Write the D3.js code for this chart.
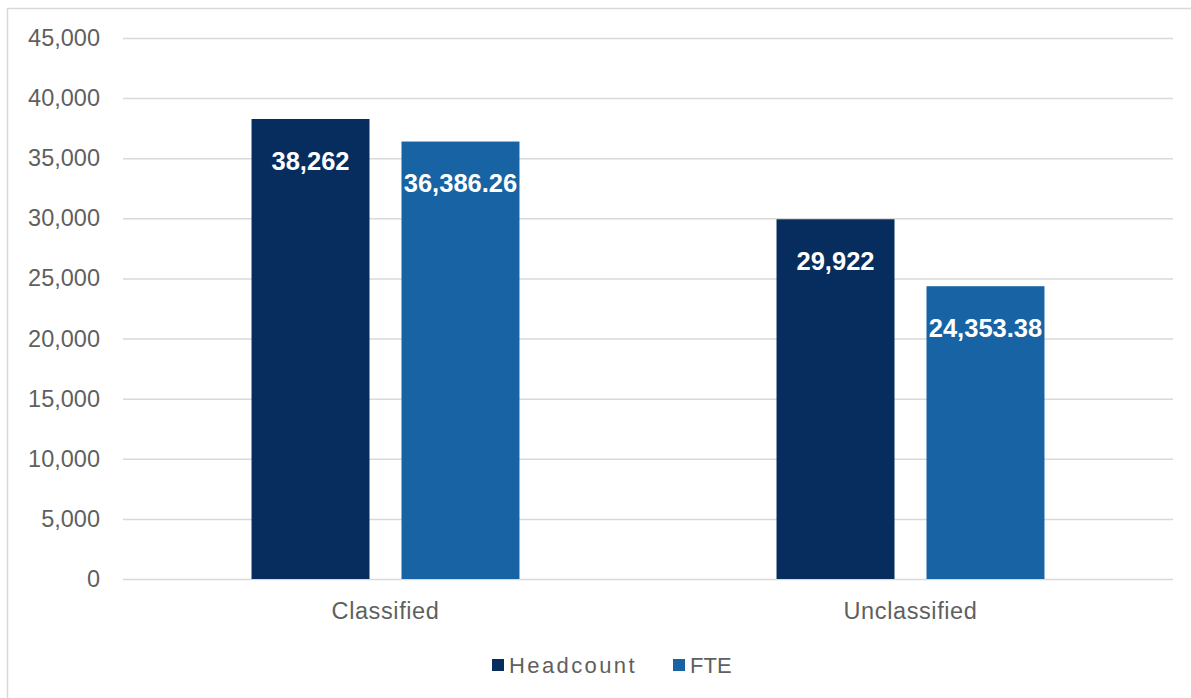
<!DOCTYPE html>
<html>
<head>
<meta charset="utf-8">
<script src="https://cdn.jsdelivr.net/npm/d3@7"></script>
<style>
  html, body { margin: 0; padding: 0; background: #fff; }
  svg { display: block; font-family: "Liberation Sans", Arial, sans-serif; }
</style>
</head>
<body>
<svg id="chart" width="1191" height="698"></svg>
<script>
// Workforce totals by classification
const categories = ["Classified", "Unclassified"];
const seriesNames = ["Headcount", "FTE"];
const headcount = [38262, 29922];
const fte = [36386.26, 24353.38];
const tickValues = [0, 5000, 10000, 15000, 20000, 25000, 30000, 35000, 40000, 45000];
const labelText = [["38,262", "36,386.26"], ["29,922", "24,353.38"]];

const colors = { Headcount: "#072d5e", FTE: "#1763a3" };

const svg = d3.select("#chart");
const W = 1191, H = 698;
const plot = { left: 123, right: 1173, top: 38, bottom: 579 };

// chart frame
svg.append("rect")
  .attr("x", 7.5).attr("y", 8.5)
  .attr("width", W + 20).attr("height", H + 20)
  .attr("fill", "#fff").attr("stroke", "#d9d9d9").attr("stroke-width", 1.5);

const y = d3.scaleLinear().domain([0, 45000]).range([plot.bottom, plot.top]);
const x0 = d3.scaleBand().domain(categories).range([plot.left, plot.right]).padding(0);
const x1 = d3.scaleBand().domain(seriesNames).range([0, x0.bandwidth()])
  .paddingInner(0.2133).paddingOuter(0.857);

// gridlines + tick labels
const yAxis = d3.axisLeft(y).tickValues(tickValues)
  .tickSize(-(plot.right - plot.left)).tickPadding(23)
  .tickFormat(d3.format(","));
const gy = svg.append("g").attr("transform", `translate(${plot.left},0)`).call(yAxis);
gy.select(".domain").remove();
gy.selectAll(".tick line").attr("stroke", "#d9d9d9").attr("stroke-width", 1.5);
gy.selectAll(".tick text")
  .attr("fill", "#5f5f5f").attr("font-size", 23.5)
  .attr("font-family", "'Liberation Sans', Arial, sans-serif");

// category axis labels
const gx = svg.append("g").attr("transform", `translate(0,${plot.bottom})`)
  .call(d3.axisBottom(x0).tickSize(0).tickPadding(23));
gx.select(".domain").remove();
gx.selectAll(".tick text")
  .attr("fill", "#5f5f5f").attr("font-size", 23.5)
  .attr("letter-spacing", 0.6)
  .attr("font-family", "'Liberation Sans', Arial, sans-serif");

// bars
const rows = categories.map((c, i) => ({
  category: c,
  values: [
    { key: "Headcount", value: headcount[i], label: labelText[i][0] },
    { key: "FTE", value: fte[i], label: labelText[i][1] }
  ]
}));

const groups = svg.append("g").selectAll("g").data(rows).join("g")
  .attr("transform", d => `translate(${x0(d.category)},0)`);

groups.selectAll("rect").data(d => d.values).join("rect")
  .attr("x", d => x1(d.key))
  .attr("y", d => y(d.value))
  .attr("width", x1.bandwidth())
  .attr("height", d => y(0) - y(d.value))
  .attr("fill", d => colors[d.key]);

groups.selectAll("text.val").data(d => d.values).join("text")
  .attr("class", "val")
  .attr("x", d => x1(d.key) + x1.bandwidth() / 2)
  .attr("y", d => y(d.value) + 42)
  .attr("dy", "0.35em")
  .attr("text-anchor", "middle")
  .attr("fill", "#fff")
  .attr("font-weight", "bold")
  .attr("font-size", 25.5)
  .text(d => d.label);

// legend
const legendItems = [
  { key: "Headcount", x: 492, spacing: 2.4 },
  { key: "FTE", x: 673, spacing: 0 }
];
const lg = svg.append("g");
lg.selectAll("rect").data(legendItems).join("rect")
  .attr("x", d => d.x).attr("y", 659)
  .attr("width", 12).attr("height", 12)
  .attr("fill", d => colors[d.key]);
lg.selectAll("text").data(legendItems).join("text")
  .attr("x", d => d.x + 17).attr("y", 665)
  .attr("dy", "0.35em")
  .attr("fill", "#5f5f5f").attr("font-size", 22)
  .attr("letter-spacing", d => d.spacing)
  .text(d => d.key);
</script>
</body>
</html>
